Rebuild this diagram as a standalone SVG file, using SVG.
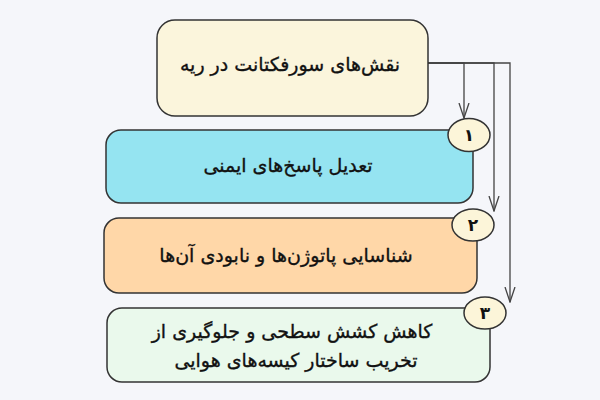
<svg xmlns="http://www.w3.org/2000/svg" width="600" height="400" viewBox="0 0 600 400">
<style>
.box{stroke:#333;stroke-width:1.5}
.badge{fill:#fcf5d9;stroke:#333;stroke-width:1.5}
.t{font-family:"DejaVu Sans","Noto Sans",sans-serif;font-size:19px;fill:#111;stroke:#111;stroke-width:0.35;text-anchor:middle;direction:rtl;unicode-bidi:embed}
.n{font-family:"DejaVu Sans","Noto Sans",sans-serif;font-size:17px;font-weight:bold;fill:#111;text-anchor:middle}
.c{fill:none;stroke:#444;stroke-width:1.3}
</style>
<defs>
<marker id="ah" markerWidth="16" markerHeight="12" refX="15" refY="6" orient="auto" markerUnits="userSpaceOnUse" viewBox="0 0 16 12">
<path d="M0,1 L15,6 L0,11" fill="none" stroke="#444" stroke-width="1.3"/>
</marker>
</defs>
<rect width="600" height="400" fill="#f5f6fa"/>
<g id="connectors">
<path class="c" d="M428,63 H464 V118" marker-end="url(#ah)"/>
<path class="c" d="M428,63 H494 V211" marker-end="url(#ah)"/>
<path class="c" d="M428,63 H510 V302" marker-end="url(#ah)"/>
</g>
<g id="root">
<rect class="box" x="157" y="20" width="271" height="96" rx="18" fill="#fbf5dc"/>
<text class="t" x="290" y="71">نقش‌های سورفکتانت در ریه</text>
</g>
<g id="node1">
<rect class="box" x="106" y="130" width="367" height="73" rx="15" fill="#95e4f1"/>
<text class="t" x="288" y="172">تعدیل پاسخ‌های ایمنی</text>
<ellipse class="badge" cx="469" cy="135" rx="21" ry="16.5"/>
<text class="n" x="469" y="141">۱</text>
</g>
<g id="node2">
<rect class="box" x="104" y="218" width="373" height="75" rx="15" fill="#ffd7a8"/>
<text class="t" x="286" y="262">شناسایی پاتوژن‌ها و نابودی آن‌ها</text>
<ellipse class="badge" cx="473" cy="225" rx="21" ry="16"/>
<text class="n" x="473" y="231">۲</text>
</g>
<g id="node3">
<rect class="box" x="107" y="308" width="383" height="74" rx="15" fill="#eaf9ec"/>
<text class="t" x="292" y="338">کاهش کشش سطحی و جلوگیری از</text>
<text class="t" x="296" y="367">تخریب ساختار کیسه‌های هوایی</text>
<ellipse class="badge" cx="485" cy="313" rx="21" ry="16"/>
<text class="n" x="485" y="319">۳</text>
</g>
</svg>
